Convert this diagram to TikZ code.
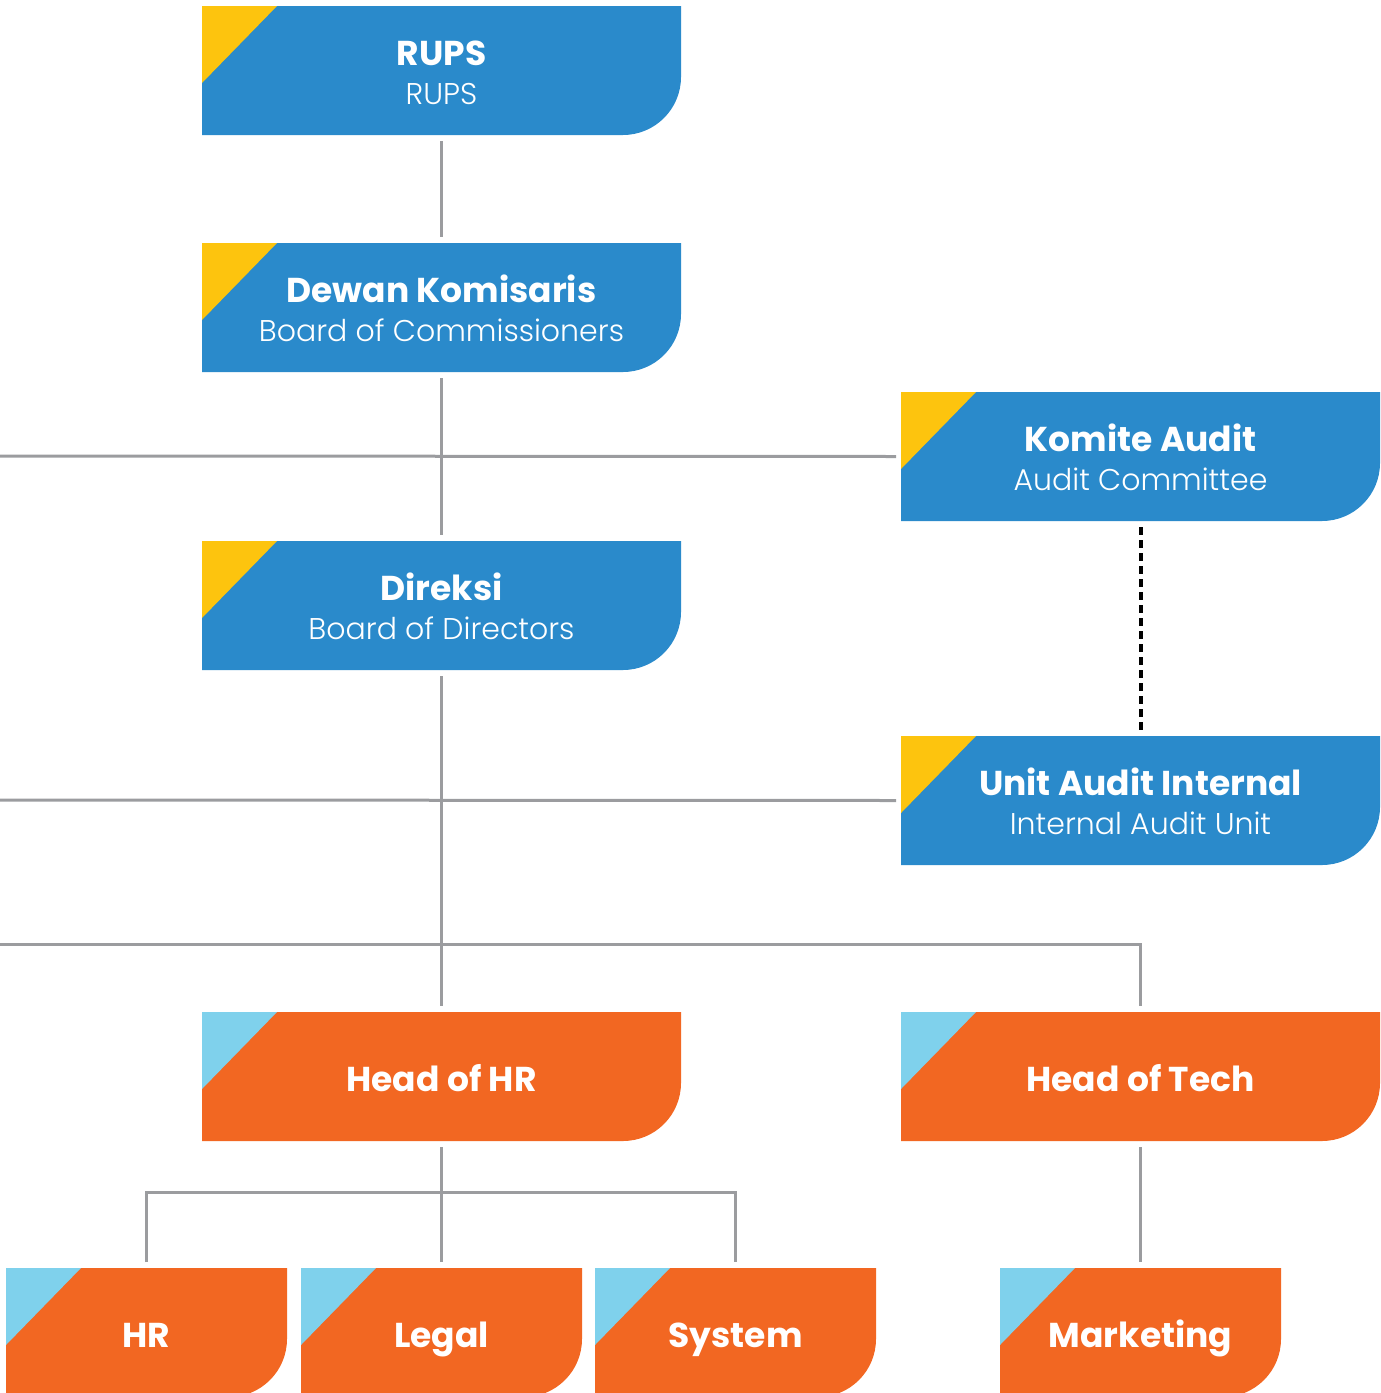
\documentclass[tikz,border=0pt]{standalone}
\usepackage{fontspec}
\setmainfont{Poppins}
\newfontfamily\plight{Poppins Light}
\definecolor{boxblue}{HTML}{2A8ACB}
\definecolor{boxyellow}{HTML}{FDC40E}
\definecolor{boxorange}{HTML}{F26722}
\definecolor{boxcyan}{HTML}{7FD1EC}
\definecolor{linegray}{HTML}{9B9C9F}
\newcommand\orgbox[6]{% name, x, y, w, fill, corner
  \fill[#5] (#2,#3) -- ({#2+#4},#3) -- ({#2+#4},{#3+71}) .. controls ({#2+#4},{#3+103}) and ({#2+#4-26},{#3+129}) .. ({#2+#4-58},{#3+129}) -- (#2,{#3+129}) -- cycle;
  \fill[#6] (#2,#3) -- ({#2+75},#3) -- (#2,{#3+77}) -- cycle;
  \node[hold, minimum width=#4pt] (#1) at ({#2+#4/2},{#3+64.5}) {};}
\begin{document}
\begin{tikzpicture}[x=1pt,y=-1pt,
  hold/.style={inner sep=0pt, outer sep=0pt, minimum height=129pt},
  ttl/.style={anchor=base, text=white, font=\bfseries\fontsize{34.5}{40}\selectfont, inner sep=0pt},
  sub/.style={anchor=base, text=white, font=\plight\fontsize{30}{34}\selectfont, inner sep=0pt},
  conn/.style={draw=linegray, line width=3pt},
  dotconn/.style={draw=black, line width=4pt, dash pattern=on 8pt off 5pt}]
\useasboundingbox (0,0) rectangle (1381,1393);
\begin{scope}
\clip (0,0) rectangle (1381,1393);
\orgbox{rups}{202}{6}{479}{boxblue}{boxyellow}
\orgbox{dewan}{202}{243}{479}{boxblue}{boxyellow}
\orgbox{komite}{901}{392}{479}{boxblue}{boxyellow}
\orgbox{direksi}{202}{541}{479}{boxblue}{boxyellow}
\orgbox{uai}{901}{736}{479}{boxblue}{boxyellow}
\orgbox{headhr}{202}{1012}{479}{boxorange}{boxcyan}
\orgbox{headtech}{901}{1012}{479}{boxorange}{boxcyan}
\orgbox{hr}{6}{1268}{281}{boxorange}{boxcyan}
\orgbox{legal}{301}{1268}{281}{boxorange}{boxcyan}
\orgbox{system}{595}{1268}{281}{boxorange}{boxcyan}
\orgbox{marketing}{1000}{1268}{281}{boxorange}{boxcyan}
\end{scope}
% texts
\node[ttl] (rups-t) at (441.5,65) {RUPS};
\node[sub] (rups-s) at (441.5,104) {RUPS};
\node[ttl] (dewan-t) at (441.5,302) {Dewan Komisaris};
\node[sub] (dewan-s) at (441.5,341) {Board of Commissioners};
\node[ttl] (komite-t) at (1140.5,451) {Komite Audit};
\node[sub] (komite-s) at (1140.5,490) {Audit Committee};
\node[ttl] (direksi-t) at (441.5,600) {Direksi};
\node[sub] (direksi-s) at (441.5,639) {Board of Directors};
\node[ttl] (uai-t) at (1140.5,795) {Unit Audit Internal};
\node[sub] (uai-s) at (1140.5,834) {Internal Audit Unit};
\node[ttl] (headhr-t) at (441.5,1091) {Head of HR};
\node[ttl] (headtech-t) at (1140.5,1091) {Head of Tech};
\node[ttl] (hr-t) at (146.5,1347) {HR};
\node[ttl] (legal-t) at (441.5,1347) {Legal};
\node[ttl] (system-t) at (735.5,1347) {System};
\node[ttl] (marketing-t) at (1140.5,1347) {Marketing};
% connector points
\coordinate (l1) at (0,456);
\coordinate (l2) at (0,800);
\coordinate (l3) at (0,944);
\coordinate (bhr) at (441.5,1192);
% connectors
\draw[conn, shorten <=6pt, shorten >=6pt] (rups) -- (dewan);
\draw[conn, shorten <=6pt, shorten >=6pt] (dewan) -- (direksi);
\draw[conn, shorten <=6pt, shorten >=6pt] (direksi) -- (headhr);
\draw[conn, shorten >=5pt] (l1) -- (komite.west);
\draw[conn, shorten >=5pt] (l2) -- (uai.west);
\draw[conn, shorten >=6pt] (l3) -| (headtech.north);
\draw[conn, shorten <=6pt, shorten >=6pt] (headhr) -- (legal);
\draw[conn, shorten <=6pt, shorten >=6pt] (hr.north) |- (bhr) -| (system.north);
\draw[conn, shorten <=6pt, shorten >=6pt] (headtech) -- (marketing);
\draw[dotconn, shorten <=6pt, shorten >=6pt] (komite) -- (uai);
\end{tikzpicture}
\end{document}
